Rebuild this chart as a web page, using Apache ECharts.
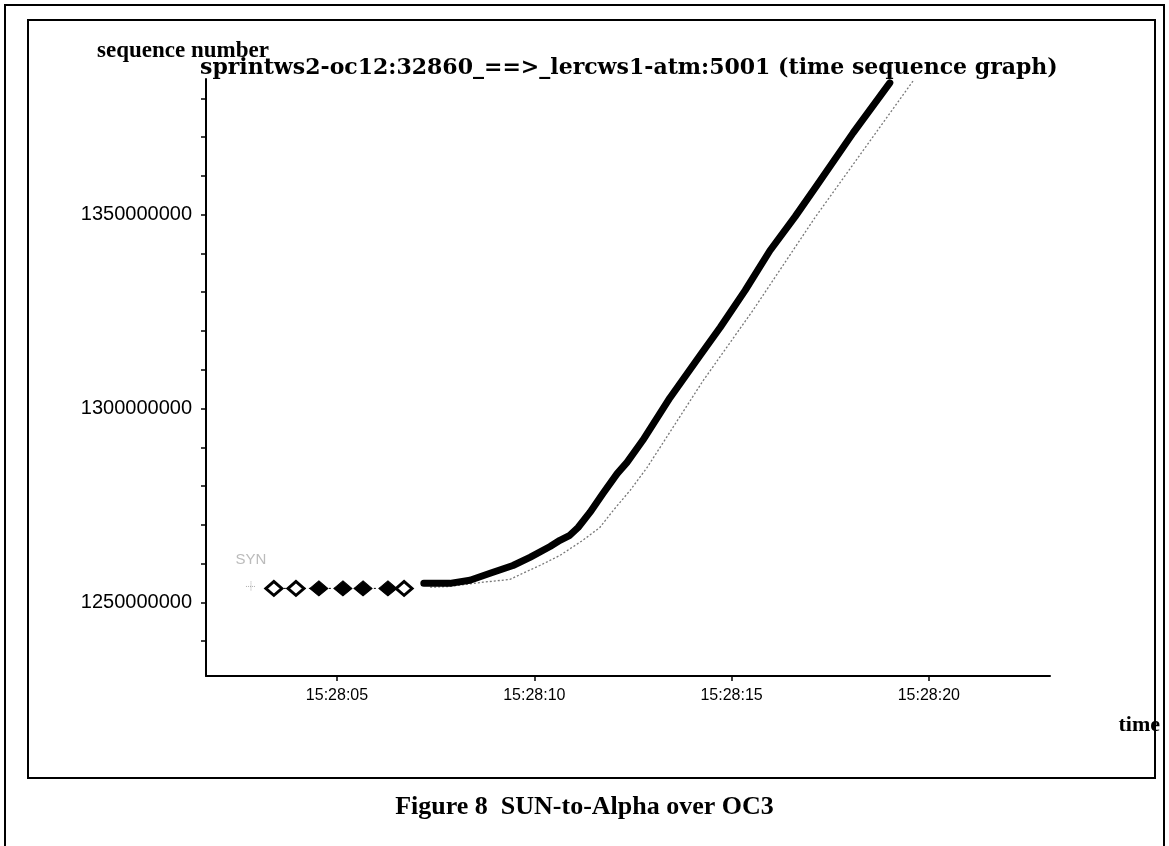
<!DOCTYPE html>
<html>
<head>
<meta charset="utf-8">
<script src="https://cdn.jsdelivr.net/npm/echarts@6/dist/echarts.min.js"></script>
<style>
html,body{margin:0;padding:0;background:#fff;}
#chart{width:1169px;height:846px;}
</style>
</head>
<body>
<div id="chart"></div>
<script>
// ---- data (time in seconds after 15:28:00, sequence numbers in millions) ----
const xTickValues = [5, 10, 15, 20];
const xTickLabels = ['15:28:05', '15:28:10', '15:28:15', '15:28:20'];
const yLabelValues = [1250, 1300, 1350];
const yTickLabels = ['1250000000', '1300000000', '1350000000'];
const yMinorTicks = [1240, 1250, 1260, 1270, 1280, 1290, 1300, 1310, 1320, 1330, 1340, 1350, 1360, 1370, 1380];

const synT = [2.82];
const synV = [1254.1];

const diamondT = [3.40, 3.96, 4.54, 5.15, 5.66, 6.29, 6.70];
const diamondV = [1253.6, 1253.6, 1253.6, 1253.6, 1253.6, 1253.6, 1253.6];
const diamondFilled = [false, false, true, true, true, true, false];

const dataT = [7.20, 7.86, 8.37, 8.88, 9.46, 9.89, 10.40, 10.65, 10.90, 11.11, 11.41, 11.74, 12.10, 12.35, 12.75, 13.44, 14.20, 14.71, 15.34, 15.97, 16.61, 17.16, 18.08, 19.01];
const dataV = [1254.9, 1254.9, 1255.7, 1257.5, 1259.5, 1261.6, 1264.4, 1266.0, 1267.3, 1269.3, 1273.2, 1278.1, 1283.2, 1286.1, 1291.8, 1302.8, 1313.7, 1320.9, 1330.4, 1340.7, 1349.5, 1357.5, 1371.1, 1384.0];

const ackT = [7.36, 7.86, 8.70, 9.38, 9.71, 10.14, 10.65, 11.23, 11.66, 12.00, 12.43, 12.86, 14.28, 15.54, 17.11, 19.60];
const ackV = [1253.9, 1254.1, 1255.2, 1255.9, 1257.5, 1259.5, 1262.1, 1266.0, 1269.3, 1273.7, 1278.9, 1284.8, 1307.2, 1325.3, 1349.2, 1384.5];

const titleText = 'sprintws2-oc12:32860_==>_lercws1-atm:5001 (time sequence graph)';
const yName = 'sequence number';
const xName = 'time';
const captionText = 'Figure 8  SUN-to-Alpha over OC3';

// ---- build ----
const zip = (a, b) => a.map((v, i) => [v, b[i]]);
const chart = echarts.init(document.getElementById('chart'), null, {renderer: 'canvas'});
const serif = '"Liberation Serif", "DejaVu Serif", serif';
const sans = '"Liberation Sans", "DejaVu Sans", sans-serif';

const option = {
  backgroundColor: '#fff',
  animation: false,
  grid: {left: 206, right: 119, top: 79, bottom: 170, containLabel: false},
  xAxis: {
    type: 'value', min: 1.68, max: 23.07,
    axisLine: {lineStyle: {color: '#000', width: 2}},
    axisTick: {show: true, customValues: xTickValues, length: 5, lineStyle: {color: '#000', width: 1.5}},
    axisLabel: {customValues: xTickValues, formatter: v => xTickLabels[xTickValues.indexOf(v)] || '',
      fontFamily: sans, fontSize: 16, color: '#000', margin: 12},
    splitLine: {show: false}
  },
  yAxis: {
    type: 'value', min: 1231, max: 1385,
    axisLine: {show: true, lineStyle: {color: '#000', width: 2}},
    axisTick: {show: true, customValues: yMinorTicks, length: 5, lineStyle: {color: '#000', width: 1.5}},
    axisLabel: {customValues: yLabelValues, formatter: v => yTickLabels[yLabelValues.indexOf(v)] || '',
      fontFamily: sans, fontSize: 20, color: '#000', margin: 14},
    splitLine: {show: false}
  },
  series: [
    {
      type: 'line', data: zip(ackT, ackV), symbol: 'none', z: 2,
      lineStyle: {color: '#777', width: 1.3, type: [2, 2]}
    },
    {
      type: 'line', z: 3,
      lineStyle: {color: '#000', width: 1, type: [2, 3]},
      symbol: 'diamond',
      data: zip(diamondT, diamondV).map((p, i) => ({
        value: p,
        symbolSize: diamondFilled[i] ? [18, 15] : [16, 14],
        itemStyle: diamondFilled[i] ? {color: '#000', borderColor: '#000', borderWidth: 1} : {color: '#fff', borderColor: '#000', borderWidth: 3}
      }))
    },
    {
      type: 'line', data: zip(dataT, dataV), symbol: 'none', z: 4,
      lineStyle: {color: '#000', width: 7, join: 'round', cap: 'round'}
    },
    {
      type: 'scatter', data: zip(synT, synV), z: 3,
      symbol: 'path://M0,5 L10,5 M5,0 L5,10', symbolSize: 10,
      itemStyle: {color: 'none', borderColor: '#999', borderWidth: 1, borderType: 'dotted'},
      label: {show: true, position: 'top', distance: 12, formatter: 'SYN', color: '#aaa', fontFamily: sans, fontSize: 15}
    }
  ],
  graphic: [
    {type: 'rect', shape: {x: 5, y: 5, width: 1159, height: 850}, style: {fill: 'none', stroke: '#000', lineWidth: 2}, silent: true},
    {type: 'rect', shape: {x: 28, y: 20, width: 1127, height: 758}, style: {fill: 'none', stroke: '#000', lineWidth: 2}, silent: true},
    {type: 'text', left: 97, top: 40, style: {text: yName, font: 'bold 23px ' + serif, fill: '#000'}},
    {type: 'text', left: 200, top: 57, style: {text: titleText, font: 'bold 22px "DejaVu Serif", serif', fill: '#000'}},
    {type: 'text', right: 9, top: 714, style: {text: xName, font: 'bold 22px ' + serif, fill: '#000'}},
    {type: 'text', left: 'center', top: 794, style: {text: captionText, font: 'bold 26px ' + serif, fill: '#000'}}
  ]
};
chart.setOption(option);
</script>
</body>
</html>
